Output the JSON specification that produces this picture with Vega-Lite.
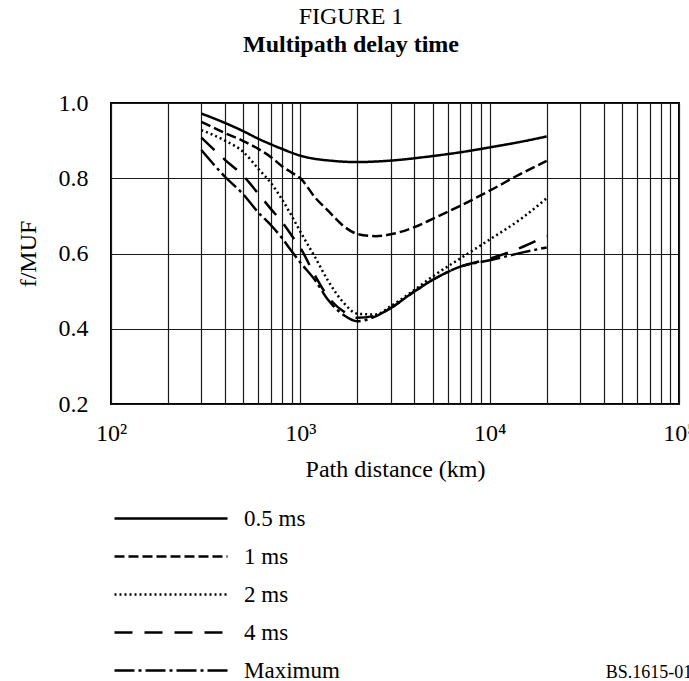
{
  "$schema": "https://vega.github.io/schema/vega-lite/v6.json",
  "width": 568,
  "height": 301,
  "autosize": {"type": "none"},
  "padding": {"left": 111, "top": 103, "right": 10, "bottom": 277},
  "background": "white",
  "config": {
    "font": "Liberation Serif",
    "view": {"stroke": "black", "strokeWidth": 2}
  },
  "title": {
    "text": "FIGURE 1",
    "subtitle": "Multipath delay time",
    "font": "Liberation Serif",
    "subtitleFont": "Liberation Serif",
    "fontSize": 24,
    "fontWeight": "normal",
    "subtitleFontSize": 24,
    "subtitleFontWeight": "bold",
    "color": "black",
    "subtitleColor": "black",
    "anchor": "middle",
    "dx": -44,
    "offset": 34,
    "subtitlePadding": 4
  },
  "layer": [
    {
      "data": {
        "values": [
          {"series": "0.5 ms", "distance": 300, "fmuf": 0.972},
          {"series": "0.5 ms", "distance": 400, "fmuf": 0.947},
          {"series": "0.5 ms", "distance": 500, "fmuf": 0.925},
          {"series": "0.5 ms", "distance": 600, "fmuf": 0.905},
          {"series": "0.5 ms", "distance": 700, "fmuf": 0.890},
          {"series": "0.5 ms", "distance": 800, "fmuf": 0.878},
          {"series": "0.5 ms", "distance": 1000, "fmuf": 0.860},
          {"series": "0.5 ms", "distance": 1500, "fmuf": 0.846},
          {"series": "0.5 ms", "distance": 2000, "fmuf": 0.843},
          {"series": "0.5 ms", "distance": 3000, "fmuf": 0.847},
          {"series": "0.5 ms", "distance": 5000, "fmuf": 0.859},
          {"series": "0.5 ms", "distance": 7000, "fmuf": 0.869},
          {"series": "0.5 ms", "distance": 10000, "fmuf": 0.882},
          {"series": "0.5 ms", "distance": 15000, "fmuf": 0.898},
          {"series": "0.5 ms", "distance": 20000, "fmuf": 0.911},

          {"series": "1 ms", "distance": 300, "fmuf": 0.950},
          {"series": "1 ms", "distance": 400, "fmuf": 0.920},
          {"series": "1 ms", "distance": 500, "fmuf": 0.899},
          {"series": "1 ms", "distance": 600, "fmuf": 0.878},
          {"series": "1 ms", "distance": 700, "fmuf": 0.856},
          {"series": "1 ms", "distance": 800, "fmuf": 0.832},
          {"series": "1 ms", "distance": 900, "fmuf": 0.815},
          {"series": "1 ms", "distance": 1000, "fmuf": 0.800},
          {"series": "1 ms", "distance": 1200, "fmuf": 0.748},
          {"series": "1 ms", "distance": 1400, "fmuf": 0.714},
          {"series": "1 ms", "distance": 1700, "fmuf": 0.672},
          {"series": "1 ms", "distance": 2000, "fmuf": 0.652},
          {"series": "1 ms", "distance": 2500, "fmuf": 0.646},
          {"series": "1 ms", "distance": 3000, "fmuf": 0.651},
          {"series": "1 ms", "distance": 4000, "fmuf": 0.670},
          {"series": "1 ms", "distance": 5000, "fmuf": 0.692},
          {"series": "1 ms", "distance": 7000, "fmuf": 0.727},
          {"series": "1 ms", "distance": 10000, "fmuf": 0.767},
          {"series": "1 ms", "distance": 15000, "fmuf": 0.815},
          {"series": "1 ms", "distance": 20000, "fmuf": 0.846},

          {"series": "2 ms", "distance": 300, "fmuf": 0.928},
          {"series": "2 ms", "distance": 400, "fmuf": 0.900},
          {"series": "2 ms", "distance": 500, "fmuf": 0.870},
          {"series": "2 ms", "distance": 600, "fmuf": 0.825},
          {"series": "2 ms", "distance": 700, "fmuf": 0.787},
          {"series": "2 ms", "distance": 800, "fmuf": 0.744},
          {"series": "2 ms", "distance": 900, "fmuf": 0.700},
          {"series": "2 ms", "distance": 1000, "fmuf": 0.658},
          {"series": "2 ms", "distance": 1200, "fmuf": 0.589},
          {"series": "2 ms", "distance": 1400, "fmuf": 0.528},
          {"series": "2 ms", "distance": 1700, "fmuf": 0.468},
          {"series": "2 ms", "distance": 2000, "fmuf": 0.440},
          {"series": "2 ms", "distance": 2500, "fmuf": 0.438},
          {"series": "2 ms", "distance": 3000, "fmuf": 0.460},
          {"series": "2 ms", "distance": 4000, "fmuf": 0.503},
          {"series": "2 ms", "distance": 5000, "fmuf": 0.539},
          {"series": "2 ms", "distance": 7000, "fmuf": 0.587},
          {"series": "2 ms", "distance": 10000, "fmuf": 0.637},
          {"series": "2 ms", "distance": 15000, "fmuf": 0.696},
          {"series": "2 ms", "distance": 20000, "fmuf": 0.747},

          {"series": "4 ms", "distance": 300, "fmuf": 0.908},
          {"series": "4 ms", "distance": 400, "fmuf": 0.849},
          {"series": "4 ms", "distance": 500, "fmuf": 0.806},
          {"series": "4 ms", "distance": 600, "fmuf": 0.759},
          {"series": "4 ms", "distance": 700, "fmuf": 0.718},
          {"series": "4 ms", "distance": 800, "fmuf": 0.684},
          {"series": "4 ms", "distance": 900, "fmuf": 0.648},
          {"series": "4 ms", "distance": 1000, "fmuf": 0.615},
          {"series": "4 ms", "distance": 1200, "fmuf": 0.540},
          {"series": "4 ms", "distance": 1400, "fmuf": 0.485},
          {"series": "4 ms", "distance": 1700, "fmuf": 0.445},
          {"series": "4 ms", "distance": 2000, "fmuf": 0.429},
          {"series": "4 ms", "distance": 2500, "fmuf": 0.435},
          {"series": "4 ms", "distance": 3000, "fmuf": 0.455},
          {"series": "4 ms", "distance": 4000, "fmuf": 0.499},
          {"series": "4 ms", "distance": 5000, "fmuf": 0.530},
          {"series": "4 ms", "distance": 7000, "fmuf": 0.565},
          {"series": "4 ms", "distance": 10000, "fmuf": 0.586},
          {"series": "4 ms", "distance": 15000, "fmuf": 0.618},
          {"series": "4 ms", "distance": 20000, "fmuf": 0.647},

          {"series": "Maximum", "distance": 300, "fmuf": 0.875},
          {"series": "Maximum", "distance": 400, "fmuf": 0.804},
          {"series": "Maximum", "distance": 500, "fmuf": 0.757},
          {"series": "Maximum", "distance": 600, "fmuf": 0.709},
          {"series": "Maximum", "distance": 700, "fmuf": 0.675},
          {"series": "Maximum", "distance": 800, "fmuf": 0.641},
          {"series": "Maximum", "distance": 900, "fmuf": 0.606},
          {"series": "Maximum", "distance": 1000, "fmuf": 0.576},
          {"series": "Maximum", "distance": 1200, "fmuf": 0.528},
          {"series": "Maximum", "distance": 1400, "fmuf": 0.477},
          {"series": "Maximum", "distance": 1700, "fmuf": 0.436},
          {"series": "Maximum", "distance": 2000, "fmuf": 0.420},
          {"series": "Maximum", "distance": 2500, "fmuf": 0.433},
          {"series": "Maximum", "distance": 3000, "fmuf": 0.455},
          {"series": "Maximum", "distance": 4000, "fmuf": 0.499},
          {"series": "Maximum", "distance": 5000, "fmuf": 0.530},
          {"series": "Maximum", "distance": 7000, "fmuf": 0.565},
          {"series": "Maximum", "distance": 10000, "fmuf": 0.582},
          {"series": "Maximum", "distance": 15000, "fmuf": 0.603},
          {"series": "Maximum", "distance": 20000, "fmuf": 0.616}
        ]
      },
      "mark": {"type": "line", "color": "black", "strokeWidth": 2.5, "interpolate": "monotone"},
      "encoding": {
        "x": {
          "field": "distance",
          "type": "quantitative",
          "scale": {"type": "log", "domain": [100, 100000], "nice": false},
          "axis": {
            "values": [100, 200, 300, 400, 500, 600, 700, 800, 900, 1000, 2000, 3000, 4000, 5000, 6000, 7000, 8000, 9000, 10000, 20000, 30000, 40000, 50000, 60000, 70000, 80000, 90000, 100000],
            "labelExpr": "datum.value == 100 ? '10²' : datum.value == 1000 ? '10³' : datum.value == 10000 ? '10⁴' : datum.value == 100000 ? '10⁵' : ''",
            "grid": true,
            "gridColor": "#1a1a1a",
            "gridWidth": 1.2,
            "gridOpacity": 1,
            "domain": false,
            "ticks": false,
            "labelFont": "Liberation Serif",
            "labelFontSize": 24,
            "labelColor": "black",
            "labelPadding": 17,
            "labelFlush": false,
            "labelOverlap": false,
            "title": "Path distance (km)",
            "titleFont": "Liberation Serif",
            "titleFontSize": 24,
            "titleFontWeight": "normal",
            "titleColor": "black",
            "titlePadding": 12
          }
        },
        "y": {
          "field": "fmuf",
          "type": "quantitative",
          "scale": {"domain": [0.2, 1.0], "nice": false, "zero": false},
          "axis": {
            "values": [0.2, 0.4, 0.6, 0.8, 1.0],
            "format": ".1f",
            "grid": true,
            "gridColor": "#1a1a1a",
            "gridWidth": 1.2,
            "gridOpacity": 1,
            "domain": false,
            "ticks": false,
            "labelFont": "Liberation Serif",
            "labelFontSize": 24,
            "labelColor": "black",
            "labelPadding": 23,
            "title": "f/MUF",
            "titleFont": "Liberation Serif",
            "titleFontSize": 24,
            "titleFontWeight": "normal",
            "titleColor": "black",
            "titlePadding": 18
          }
        },
        "strokeDash": {
          "field": "series",
          "type": "nominal",
          "scale": {
            "domain": ["0.5 ms", "1 ms", "2 ms", "4 ms", "Maximum"],
            "range": [[1, 0], [10, 4], [2, 3], [18, 12], [20, 4, 3, 4]]
          },
          "legend": {
            "orient": "none",
            "legendX": 2,
            "legendY": 404,
            "direction": "vertical",
            "title": null,
            "padding": 0,
            "symbolType": "stroke",
            "symbolSize": 12769,
            "symbolStrokeWidth": 2.5,
            "symbolStrokeColor": "black",
            "labelFont": "Liberation Serif",
            "labelFontSize": 23,
            "labelColor": "black",
            "labelOffset": 15,
            "labelLimit": 300,
            "clipHeight": 23,
            "rowPadding": 14
          }
        }
      }
    },
    {
      "data": {"values": [{"label": "BS.1615-01", "distance": 41000, "fmuf": -0.527}]},
      "mark": {"type": "text", "align": "left", "baseline": "alphabetic", "fontSize": 18, "font": "Liberation Serif", "color": "black", "clip": false},
      "encoding": {
        "x": {"field": "distance", "type": "quantitative"},
        "y": {"field": "fmuf", "type": "quantitative"},
        "text": {"field": "label"}
      }
    }
  ]
}
